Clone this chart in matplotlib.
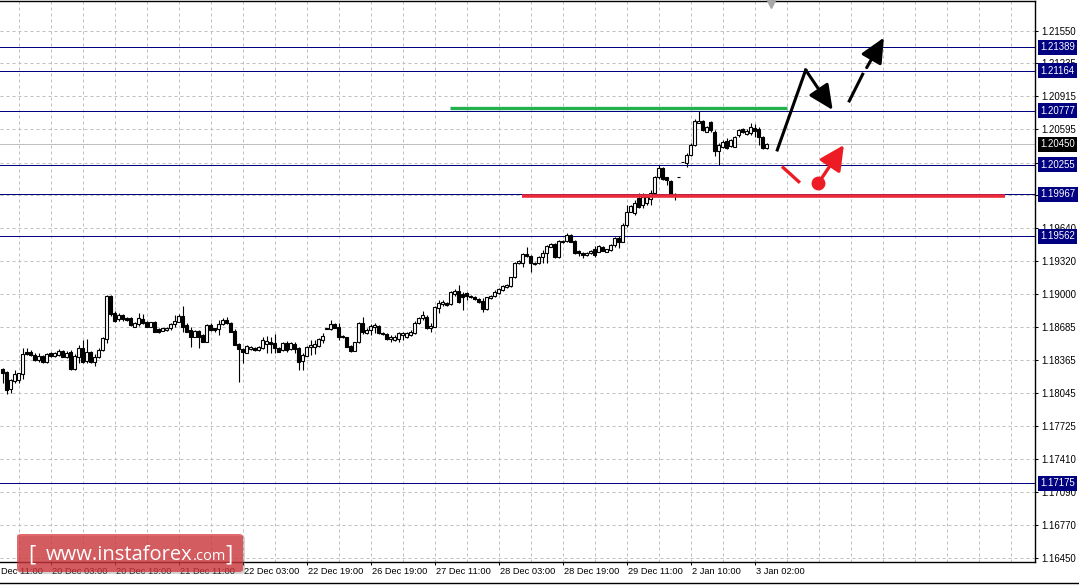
import numpy as np
import matplotlib.pyplot as plt
from matplotlib.patches import FancyBboxPatch

# EURUSD H1 candles (index 0 = 19 Dec 15:00)
opens = [1.18277, 1.18248, 1.18084, 1.18164, 1.18174, 1.18232, 1.18447, 1.18447, 1.18415, 1.18367,
         1.18406, 1.18351, 1.18438, 1.18406, 1.18415, 1.18457, 1.18399, 1.18447, 1.18277, 1.18399,
         1.18480, 1.18360, 1.18447, 1.18351, 1.18393, 1.18464, 1.18570, 1.18986, 1.18818, 1.18760,
         1.18802, 1.18770, 1.18770, 1.18689, 1.18715, 1.18760, 1.18737, 1.18689, 1.18737, 1.18667,
         1.18650, 1.18657, 1.18673, 1.18712, 1.18737, 1.18792, 1.18705, 1.18657, 1.18592, 1.18650,
         1.18609, 1.18544, 1.18705, 1.18673, 1.18664, 1.18712, 1.18754, 1.18728, 1.18650, 1.18519,
         1.18473, 1.18438, 1.18470, 1.18486, 1.18464, 1.18480, 1.18522, 1.18544, 1.18528, 1.18480,
         1.18464, 1.18534, 1.18470, 1.18522, 1.18480, 1.18357, 1.18409, 1.18489, 1.18489, 1.18502,
         1.18560, 1.18679, 1.18664, 1.18715, 1.18683, 1.18599, 1.18586, 1.18502, 1.18457, 1.18538,
         1.18722, 1.18631, 1.18657, 1.18689, 1.18696, 1.18631, 1.18618, 1.18567, 1.18560, 1.18567,
         1.18609, 1.18592, 1.18609, 1.18625, 1.18728, 1.18770, 1.18786, 1.18673, 1.18689, 1.18867,
         1.18908, 1.18921, 1.18905, 1.19005, 1.19037, 1.19005, 1.19012, 1.18986, 1.18979, 1.18954,
         1.18937, 1.18857, 1.18963, 1.18986, 1.19018, 1.19044, 1.19070, 1.19082, 1.19166, 1.19302,
         1.19308, 1.19392, 1.19372, 1.19308, 1.19302, 1.19360, 1.19398, 1.19462, 1.19488, 1.19360,
         1.19511, 1.19520, 1.19575, 1.19520, 1.19421, 1.19404, 1.19382, 1.19398, 1.19437, 1.19414,
         1.19462, 1.19414, 1.19430, 1.19479, 1.19543, 1.19511, 1.19672, 1.19801, 1.19785, 1.19930,
         1.19865, 1.19882, 1.19920, 1.19978, 1.20133, 1.20220, 1.20133, 1.20100, 1.19972, 1.20133,
         1.20284, 1.20274, 1.20349, 1.20445, 1.20661, 1.20680, 1.20574, 1.20671, 1.20574, 1.20390,
         1.20429, 1.20487, 1.20436, 1.20429, 1.20542, 1.20597, 1.20552, 1.20558, 1.20607, 1.20597,
         1.20526, 1.20413]
highs = [1.18287, 1.18264, 1.18180, 1.18270, 1.18244, 1.18480, 1.18480, 1.18464, 1.18435, 1.18432,
         1.18415, 1.18432, 1.18447, 1.18444, 1.18470, 1.18464, 1.18454, 1.18464, 1.18425, 1.18512,
         1.18560, 1.18567, 1.18457, 1.18425, 1.18480, 1.18589, 1.18995, 1.18992, 1.18841, 1.18821,
         1.18812, 1.18783, 1.18783, 1.18734, 1.18818, 1.18812, 1.18744, 1.18737, 1.18744, 1.18676,
         1.18679, 1.18686, 1.18722, 1.18802, 1.18812, 1.18889, 1.18725, 1.18689, 1.18657, 1.18657,
         1.18618, 1.18715, 1.18725, 1.18679, 1.18754, 1.18770, 1.18783, 1.18737, 1.18664, 1.18528,
         1.18483, 1.18512, 1.18502, 1.18493, 1.18502, 1.18592, 1.18599, 1.18592, 1.18618, 1.18493,
         1.18541, 1.18554, 1.18541, 1.18544, 1.18496, 1.18432, 1.18502, 1.18560, 1.18560, 1.18580,
         1.18625, 1.18679, 1.18754, 1.18725, 1.18722, 1.18604, 1.18589, 1.18512, 1.18541, 1.18737,
         1.18780, 1.18676, 1.18712, 1.18722, 1.18705, 1.18638, 1.18628, 1.18609, 1.18609, 1.18641,
         1.18641, 1.18638, 1.18657, 1.18744, 1.18786, 1.18844, 1.18802, 1.18722, 1.18889, 1.18947,
         1.18947, 1.18928, 1.19034, 1.19050, 1.19092, 1.19027, 1.19027, 1.18995, 1.18986, 1.18966,
         1.18963, 1.18976, 1.18995, 1.19044, 1.19063, 1.19092, 1.19102, 1.19172, 1.19314, 1.19334,
         1.19404, 1.19462, 1.19382, 1.19314, 1.19372, 1.19430, 1.19479, 1.19495, 1.19495, 1.19527,
         1.19527, 1.19592, 1.19585, 1.19527, 1.19430, 1.19414, 1.19411, 1.19430, 1.19469, 1.19479,
         1.19469, 1.19443, 1.19488, 1.19559, 1.19566, 1.19688, 1.19865, 1.19865, 1.19914, 1.19978,
         1.19978, 1.19962, 1.20010, 1.20146, 1.20252, 1.20230, 1.20136, 1.20107, 1.19978, 1.20133,
         1.20284, 1.20368, 1.20465, 1.20697, 1.20777, 1.20687, 1.20629, 1.20680, 1.20590, 1.20462,
         1.20494, 1.20510, 1.20503, 1.20532, 1.20597, 1.20610, 1.20600, 1.20661, 1.20648, 1.20616,
         1.20532, 1.20460]
lows = [1.18142, 1.18035, 1.18045, 1.18142, 1.18142, 1.18180, 1.18415, 1.18406, 1.18357, 1.18351,
        1.18341, 1.18341, 1.18396, 1.18396, 1.18406, 1.18396, 1.18389, 1.18270, 1.18270, 1.18335,
        1.18335, 1.18341, 1.18338, 1.18309, 1.18386, 1.18454, 1.18528, 1.18792, 1.18734, 1.18744,
        1.18744, 1.18744, 1.18696, 1.18683, 1.18696, 1.18715, 1.18686, 1.18686, 1.18638, 1.18631,
        1.18644, 1.18647, 1.18657, 1.18689, 1.18734, 1.18641, 1.18638, 1.18496, 1.18589, 1.18480,
        1.18541, 1.18541, 1.18647, 1.18638, 1.18609, 1.18705, 1.18715, 1.18638, 1.18509, 1.18157,
        1.18341, 1.18432, 1.18464, 1.18454, 1.18454, 1.18470, 1.18432, 1.18432, 1.18432, 1.18444,
        1.18454, 1.18447, 1.18464, 1.18432, 1.18270, 1.18270, 1.18406, 1.18415, 1.18425, 1.18493,
        1.18534, 1.18664, 1.18657, 1.18676, 1.18560, 1.18580, 1.18493, 1.18447, 1.18454, 1.18528,
        1.18618, 1.18618, 1.18609, 1.18625, 1.18618, 1.18609, 1.18560, 1.18538, 1.18551, 1.18544,
        1.18560, 1.18580, 1.18599, 1.18618, 1.18715, 1.18754, 1.18667, 1.18641, 1.18686, 1.18818,
        1.18892, 1.18889, 1.18899, 1.18986, 1.18921, 1.18850, 1.18947, 1.18966, 1.18947, 1.18918,
        1.18834, 1.18850, 1.18957, 1.18976, 1.19005, 1.19037, 1.19063, 1.19073, 1.19160, 1.19295,
        1.19269, 1.19366, 1.19221, 1.19285, 1.19295, 1.19308, 1.19308, 1.19459, 1.19353, 1.19353,
        1.19498, 1.19511, 1.19508, 1.19392, 1.19372, 1.19350, 1.19372, 1.19392, 1.19360, 1.19411,
        1.19421, 1.19411, 1.19421, 1.19462, 1.19447, 1.19508, 1.19656, 1.19798, 1.19769, 1.19833,
        1.19833, 1.19865, 1.19865, 1.19972, 1.20117, 1.20107, 1.20059, 1.19962, 1.19914, 1.20133,
        1.20284, 1.20230, 1.20339, 1.20436, 1.20655, 1.20581, 1.20571, 1.20574, 1.20339, 1.20252,
        1.20416, 1.20404, 1.20426, 1.20423, 1.20526, 1.20564, 1.20542, 1.20542, 1.20526, 1.20445,
        1.20407, 1.20407]
closes = [1.18244, 1.18077, 1.18174, 1.18229, 1.18238, 1.18425, 1.18425, 1.18415, 1.18367, 1.18406,
          1.18351, 1.18425, 1.18406, 1.18432, 1.18457, 1.18399, 1.18438, 1.18277, 1.18406, 1.18480,
          1.18351, 1.18447, 1.18351, 1.18393, 1.18464, 1.18577, 1.18986, 1.18812, 1.18747, 1.18802,
          1.18760, 1.18754, 1.18705, 1.18722, 1.18770, 1.18728, 1.18689, 1.18731, 1.18641, 1.18641,
          1.18673, 1.18679, 1.18712, 1.18747, 1.18792, 1.18689, 1.18641, 1.18592, 1.18650, 1.18592,
          1.18544, 1.18705, 1.18657, 1.18657, 1.18712, 1.18754, 1.18722, 1.18641, 1.18512, 1.18470,
          1.18441, 1.18502, 1.18489, 1.18464, 1.18496, 1.18560, 1.18554, 1.18519, 1.18480, 1.18447,
          1.18534, 1.18464, 1.18528, 1.18470, 1.18351, 1.18415, 1.18489, 1.18512, 1.18519, 1.18567,
          1.18599, 1.18664, 1.18712, 1.18679, 1.18592, 1.18586, 1.18496, 1.18457, 1.18538, 1.18728,
          1.18641, 1.18657, 1.18696, 1.18705, 1.18625, 1.18615, 1.18567, 1.18592, 1.18592, 1.18625,
          1.18625, 1.18631, 1.18641, 1.18728, 1.18770, 1.18802, 1.18673, 1.18696, 1.18876, 1.18915,
          1.18931, 1.18899, 1.19027, 1.19037, 1.18931, 1.18979, 1.18986, 1.18973, 1.18954, 1.18931,
          1.18857, 1.18973, 1.18986, 1.19027, 1.19050, 1.19082, 1.19092, 1.19166, 1.19308, 1.19327,
          1.19392, 1.19372, 1.19302, 1.19295, 1.19360, 1.19404, 1.19469, 1.19488, 1.19360, 1.19520,
          1.19520, 1.19575, 1.19511, 1.19398, 1.19398, 1.19382, 1.19398, 1.19424, 1.19382, 1.19469,
          1.19424, 1.19437, 1.19479, 1.19543, 1.19511, 1.19672, 1.19801, 1.19856, 1.19882, 1.19849,
          1.19946, 1.19940, 1.19978, 1.20133, 1.20220, 1.20114, 1.20107, 1.19972, 1.19952, 1.20133,
          1.20284, 1.20349, 1.20445, 1.20680, 1.20680, 1.20590, 1.20616, 1.20590, 1.20390, 1.20445,
          1.20477, 1.20413, 1.20494, 1.20520, 1.20590, 1.20574, 1.20584, 1.20616, 1.20584, 1.20520,
          1.20413, 1.20450]

# time axis labels (candle index, text)
time_idx = [-4, 12, 28, 44, 60, 76, 92, 108, 124, 140, 156, 172, 188]
time_labels = ['19 Dec 11:00', '20 Dec 03:00', '20 Dec 19:00', '21 Dec 11:00', '22 Dec 03:00',
               '22 Dec 19:00', '26 Dec 19:00', '27 Dec 11:00', '28 Dec 03:00', '28 Dec 19:00',
               '29 Dec 11:00', '2 Jan 10:00', '3 Jan 02:00']
price_ticks = [1.21550, 1.21235, 1.20915, 1.20595, 1.20275, 1.19960, 1.19640, 1.19320, 1.19000,
               1.18685, 1.18365, 1.18045, 1.17725, 1.17410, 1.17090, 1.16770, 1.16450]

# horizontal levels
levels = [1.21389, 1.21164, 1.20777, 1.20255, 1.19967, 1.19562, 1.17175]
bid = 1.20450

# analysis drawings (candle index, price)
green_x = [111.8, 196.1]
green_y = [1.20800, 1.20800]
red_x = [129.8, 250.6]
red_y = [1.19955, 1.19955]
black_path_x = [193.65, 200.75, 207.5]
black_path_y = [1.20397, 1.21170, 1.20783]
dash_x = [211.65, 215.0, 216.0, 220.3]
dash_y = [1.20871, 1.21129, 1.21193, 1.21483]
red_tick_x = [195.15, 199.0]
red_tick_y = [1.20226, 1.20091]
red_arrow_x = [203.9, 210.3]
red_arrow_y = [1.20075, 1.20445]

plt.rcParams['font.family'] = ['Liberation Sans', 'DejaVu Sans']

W, H = 1079, 585
fig = plt.figure(figsize=(W / 100, H / 100), dpi=100)
ax = fig.add_axes([0, 23 / H, 1035 / W, 561 / H])

o = np.array(opens)
h = np.array(highs)
l = np.array(lows)
c = np.array(closes)
x = np.arange(len(c))
up = c >= o

# candles
ax.vlines(x, l, h, color='black', linewidth=0.8, zorder=3)
lo = np.minimum(o, c)
bh = np.abs(c - o)
ax.bar(x[up], bh[up], bottom=lo[up], width=0.62, facecolor='white', edgecolor='black',
       linewidth=0.8, zorder=4)
ax.bar(x[~up], bh[~up], bottom=lo[~up], width=0.62, facecolor='black', edgecolor='black',
       linewidth=0.8, zorder=4)

# levels
for lv in levels:
    ax.axhline(lv, color='#000080', linewidth=0.72, zorder=2, snap=True)
ax.axhline(bid, color='#c0c0c0', linewidth=0.72, zorder=2, snap=True)

ax.plot(green_x, green_y, color='#22b14c', linewidth=2.4, solid_capstyle='butt', zorder=5)
ax.plot(red_x, red_y, color='#ed2a3a', linewidth=2.6, solid_capstyle='butt', zorder=5)

# forecast arrows
head = '-|>,head_length=0.6,head_width=0.28'
ax.plot(black_path_x[:2], black_path_y[:2], color='black', linewidth=2.2, zorder=6)
ax.annotate('', xy=(black_path_x[2], black_path_y[2]), xytext=(black_path_x[1], black_path_y[1]),
            arrowprops=dict(arrowstyle=head, color='black', lw=2.2, mutation_scale=25,
                            shrinkA=0, shrinkB=0), zorder=6)
ax.plot(dash_x[:2], dash_y[:2], color='black', linewidth=2.2, zorder=6)
ax.annotate('', xy=(dash_x[3], dash_y[3]), xytext=(dash_x[2], dash_y[2]),
            arrowprops=dict(arrowstyle=head, color='black', lw=2.2, mutation_scale=25,
                            shrinkA=0, shrinkB=0), zorder=6)
ax.plot(red_tick_x, red_tick_y, color='#ed1c24', linewidth=2.4, zorder=6)
ax.plot(red_arrow_x[0], red_arrow_y[0], marker='o', ms=9, color='#ed1c24', zorder=6)
ax.annotate('', xy=(red_arrow_x[1], red_arrow_y[1]), xytext=(red_arrow_x[0], red_arrow_y[0]),
            arrowprops=dict(arrowstyle='-|>,head_length=0.6,head_width=0.3', color='#ed1c24',
                            lw=2.4, mutation_scale=25, shrinkA=0, shrinkB=0), zorder=6)

# axes limits and grid
ax.set_xlim(-0.675, 258.08)
ax.set_ylim(1.16414, 1.21837)
grid_x = np.arange(-4, 258, 8)
for gx in grid_x:
    ax.axvline(gx, color='#c0c0c0', linewidth=0.72, linestyle=(0, (3, 3)), zorder=1)
for py in price_ticks:
    ax.axhline(py, color='#c0c0c0', linewidth=0.72, linestyle=(0, (3, 3)), zorder=1)

ax.yaxis.tick_right()
ax.set_yticks(price_ticks)
ax.set_yticklabels(['%.5f' % p for p in price_ticks])
ax.tick_params(axis='y', length=2.2, width=0.75, pad=2, labelsize=6.9, colors='black')
vis = [t for t in time_idx if t >= 0]
ax.set_xticks(vis)
ax.set_xticklabels([])
ax.tick_params(axis='x', length=2.5, width=0.75, direction='out')
for t, s in zip(time_idx, time_labels):
    ax.annotate(s, xy=(t, 0), xycoords=('data', 'axes fraction'), xytext=(1, -9),
                textcoords='offset pixels', ha='left', va='center', fontsize=6.7,
                annotation_clip=False)

ax.spines['left'].set_visible(False)
for side in ['top', 'right', 'bottom']:
    ax.spines[side].set_linewidth(1.0)

# level price boxes on the scale
for lv in levels:
    ax.annotate('%.5f' % lv, xy=(1, lv), xycoords=('axes fraction', 'data'), xytext=(5, 0),
                textcoords='offset pixels', ha='left', va='center', fontsize=6.9, color='white',
                bbox=dict(boxstyle='square,pad=0.25', fc='#000080', ec='none'),
                annotation_clip=False, zorder=10)
ax.annotate('%.5f' % bid, xy=(1, bid), xycoords=('axes fraction', 'data'), xytext=(5, 0),
            textcoords='offset pixels', ha='left', va='center', fontsize=6.9, color='white',
            bbox=dict(boxstyle='square,pad=0.25', fc='black', ec='none'),
            annotation_clip=False, zorder=10)

# chart shift marker
ax.plot([192], [1.21815], marker='v', ms=7, color='#a8a8a8', clip_on=False, zorder=7)

# bottom frame line
fig.add_artist(plt.Line2D([0, 1], [2.5 / H, 2.5 / H], color='black', linewidth=1.0,
                          transform=fig.transFigure))

# watermark
shadow = FancyBboxPatch((19 / W, 11 / H), 226 / W, 38 / H, boxstyle='round,pad=0,rounding_size=0.004',
                        transform=fig.transFigure, fc='#808080', ec='none', alpha=0.35, zorder=20)
fig.add_artist(shadow)
box = FancyBboxPatch((17 / W, 13 / H), 226 / W, 38 / H, boxstyle='round,pad=0,rounding_size=0.004',
                     transform=fig.transFigure, fc='#d42a30', ec='none', alpha=0.7, zorder=21)
fig.add_artist(box)
wm = dict(color='white', va='baseline', zorder=22, family=['Open Sans', 'DejaVu Sans'])
fig.text(28 / W, 24 / H, '[', fontsize=16, **wm)
fig.text(46 / W, 25 / H, 'www.instaforex', fontsize=14.5, **wm)
fig.text(193 / W, 25 / H, '.com', fontsize=10.5, **wm)
fig.text(225 / W, 24 / H, ']', fontsize=16, **wm)

fig.savefig('out.png', dpi=100)
